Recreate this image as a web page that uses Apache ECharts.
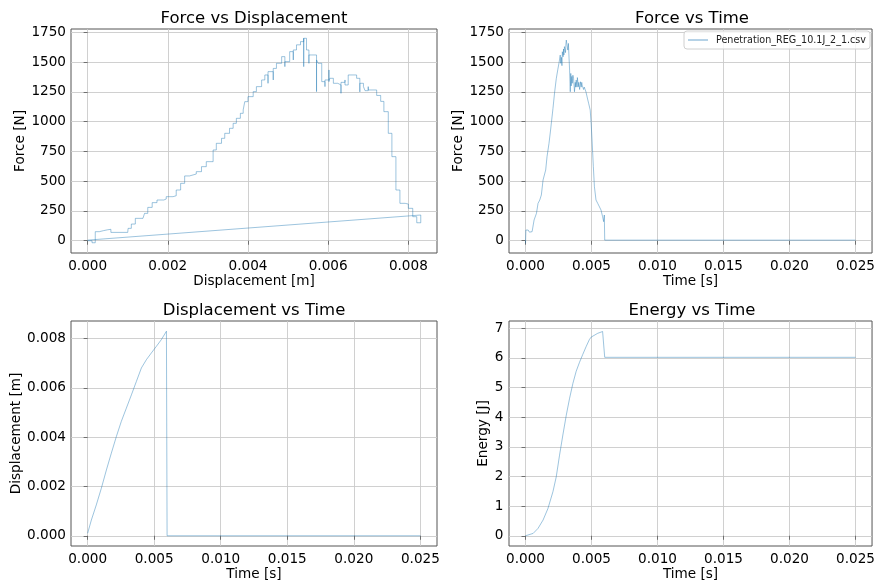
<!DOCTYPE html>
<html>
<head>
<meta charset="utf-8">
<script src="https://cdn.jsdelivr.net/npm/echarts@6/dist/echarts.min.js"></script>
<style>
html,body{margin:0;padding:0;background:#fff;}
#chart{width:878px;height:583px;}
</style>
</head>
<body>
<div id="chart"></div>
<script>
// ---------- data ----------
const legendName = 'Penetration_REG_10.1J_2_1.csv';

// Force vs Displacement (loading branch, stepped)
const fdDisp = [0,0.00011,0.00019,0.00019,0.00029,0.0004,0.0005,0.00058,0.001,0.00101,0.00109,0.00119,0.00138,0.00142,0.0015,0.00161,0.00173,0.0019,0.00196,0.00213,0.00221,0.00232,0.00242,0.00254,0.00271,0.00284,0.00296,0.00313,0.00321,0.00334,0.00342,0.00354,0.00363,0.00371,0.00381,0.00388,0.00392,0.004,0.00413,0.00421,0.00434,0.00442,0.0045,0.0045,0.0045,0.00463,0.00463,0.00463,0.00471,0.00484,0.00492,0.00492,0.00492,0.00504,0.00513,0.00513,0.00513,0.00521,0.00531,0.00539,0.00539,0.00539,0.00546,0.00552,0.00552,0.00552,0.00559,0.00571,0.00571,0.00571,0.00575,0.00584,0.00592,0.00592,0.00592,0.00602,0.00602,0.00604,0.00613,0.00624,0.00632,0.00632,0.00632,0.00642,0.00642,0.0065,0.00671,0.00679,0.00679,0.00679,0.00688,0.00692,0.00692,0.007,0.007,0.00709,0.00721,0.00721,0.00731,0.00731,0.00739,0.0075,0.00759,0.00769,0.00779,0.00792,0.008,0.00811,0.00821,0.00831];
const fdForce = [0,-17,-10,76,85,92,96,70,70,104,140,188,188,230,280,320,342,350,370,378,426,482,544,560,580,622,664,762,818,860,902,944,986,1028,1070,1098,1168,1210,1252,1294,1350,1392,1392,1322,1420,1420,1350,1447,1490,1546,1546,1462,1504,1588,1588,1518,1602,1645,1672,1700,1462,1700,1602,1602,1490,1560,1560,1518,1252,1518,1490,1336,1350,1294,1350,1434,1336,1364,1322,1308,1308,1238,1330,1350,1308,1392,1364,1364,1250,1322,1294,1294,1260,1294,1266,1266,1238,1220,1196,1170,1084,902,706,426,314,308,272,202,151,216];
// Force vs Displacement (return segment after the test)
const fdReturnDisp = [0.00831, 0];
const fdReturnForce = [216, 5];

// Force vs Time
const ftTime = [0,0.00003,0.0002,0.0003,0.0005,0.00058,0.00065,0.00083,0.00095,0.00108,0.0012,0.00133,0.00153,0.00163,0.00178,0.0019,0.00208,0.0022,0.00233,0.00245,0.00255,0.00263,0.00267,0.00272,0.00276,0.00279,0.00285,0.00288,0.00291,0.00295,0.00298,0.00303,0.00306,0.00309,0.00313,0.00318,0.00321,0.00325,0.0033,0.00334,0.00339,0.00343,0.00346,0.00348,0.00351,0.00354,0.00359,0.00364,0.00368,0.00371,0.00377,0.0038,0.00384,0.0039,0.00393,0.00396,0.004,0.00403,0.00406,0.0041,0.00416,0.00422,0.00426,0.00429,0.00436,0.0044,0.00445,0.00454,0.00458,0.00464,0.00472,0.00479,0.0049,0.00497,0.00504,0.00514,0.00522,0.00534,0.00547,0.00559,0.00572,0.00584,0.00592,0.00597,0.006,0.025];
const ftForce = [-22,90,90,72,76,80,174,230,314,342,384,510,594,706,818,930,1110,1240,1360,1440,1500,1559,1490,1540,1470,1587,1545,1610,1560,1630,1643,1580,1650,1685,1699,1620,1601,1657,1530,1433,1251,1405,1300,1340,1380,1322,1390,1363,1300,1251,1330,1290,1349,1290,1370,1363,1293,1330,1340,1270,1335,1290,1330,1307,1321,1270,1290,1279,1250,1237,1182,1150,1098,990,846,622,454,342,314,300,258,202,160,216,5,5];

// Displacement vs Time
const dtTime = [0,0.00028,0.00065,0.00103,0.00141,0.00178,0.00216,0.00253,0.00291,0.00329,0.00366,0.00404,0.00442,0.00479,0.00517,0.00554,0.00592,0.00597,0.025];
const dtDisp = [0.0001,0.00064,0.00125,0.00193,0.00267,0.00335,0.00403,0.00464,0.00518,0.00572,0.00626,0.00681,0.00715,0.00742,0.00769,0.00796,0.0083,0,0];

// Energy vs Time
const etTime = [0,0.00058,0.00095,0.00133,0.0017,0.00208,0.00233,0.00258,0.00283,0.00309,0.00334,0.00359,0.00384,0.00409,0.00434,0.00459,0.00484,0.00497,0.00509,0.00547,0.00584,0.00597,0.006,0.025];
const etEnergy = [0,0.08,0.25,0.53,0.92,1.49,1.99,2.72,3.4,4.07,4.64,5.14,5.55,5.85,6.12,6.38,6.62,6.7,6.74,6.83,6.89,6.9,6.02,6.02];

// tick labels
const forceTicks = [0,250,500,750,1000,1250,1500,1750];
const dispTicks = [0,0.002,0.004,0.006,0.008];
const timeTicks = [0,0.005,0.01,0.015,0.02,0.025];
const energyTicks = [0,1,2,3,4,5,6,7];

// ---------- chart ----------
const zip = (a, b) => a.map((v, i) => [v, b[i]]);
const FONT = 'DejaVu Sans';
const FS = 13.6;
const LINE = {color: '#1f77b4', width: 0.8, opacity: 0.55};
const frame = '#555';

function axis(gridIndex, min, max, ticks, fmt, name, nameGap, isY, labelMargin) {
  return {
    type: 'value', gridIndex, min, max,
    name, nameLocation: 'middle', nameGap, nameRotate: isY ? 90 : 0,
    nameTextStyle: {fontFamily: FONT, fontSize: FS, color: '#000'},
    axisLine: {show: false},
    axisTick: {show: true, inside: false, length: 4, lineStyle: {color: frame, width: 0.8}, customValues: ticks},
    axisLabel: {customValues: ticks, formatter: fmt, fontFamily: FONT, fontSize: FS, color: '#000', margin: labelMargin, showMinLabel: true, showMaxLabel: true},
    splitLine: {show: true, lineStyle: {color: '#cbcbcb', width: 0.9}},
  };
}
const f0 = v => String(Math.round(v));
const f3 = v => v.toFixed(3);

const grids = [
  {left: 71, top: 29, width: 366, height: 224},
  {left: 509, top: 29, width: 366, height: 224},
  {left: 71, top: 321, width: 366, height: 225},
  {left: 509, top: 321, width: 366, height: 225},
].map(g => Object.assign(g, {show: true, borderColor: frame, borderWidth: 1, backgroundColor: 'transparent', containLabel: false}));

const titleStyle = {fontFamily: FONT, fontSize: 16.5, fill: '#000', textAlign: 'center', textVerticalAlign: 'middle'};
const titles = [
  ['Force vs Displacement', 254, 19],
  ['Force vs Time', 692, 19],
  ['Displacement vs Time', 254, 311],
  ['Energy vs Time', 692, 311],
];

const option = {
  animation: false,
  backgroundColor: '#fff',
  grid: grids,
  graphic: titles.map(t => ({type: 'text', x: t[1], y: t[2], style: Object.assign({text: t[0]}, titleStyle)})),
  legend: {
    show: true, left: 684, top: 31,
    data: [{name: legendName, icon: 'rect'}],
    itemWidth: 20, itemHeight: 1.2,
    padding: [4, 4, 4, 4],
    borderColor: '#d0d0d0', borderWidth: 1, borderRadius: 3,
    backgroundColor: 'rgba(255,255,255,0.8)',
    selectedMode: false,
    itemStyle: {color: 'rgba(31,119,180,0.55)'},
    textStyle: {fontFamily: FONT, fontSize: 9.6, color: '#222', padding: [0, 0, 0, 3]},
  },
  xAxis: [
    axis(0, -0.000415, 0.008715, dispTicks, f3, 'Displacement [m]', 21, false, 6),
    axis(1, -0.00125, 0.02625, timeTicks, f3, 'Time [s]', 21, false, 6),
    axis(2, -0.00125, 0.02625, timeTicks, f3, 'Time [s]', 21, false, 6),
    axis(3, -0.00125, 0.02625, timeTicks, f3, 'Time [s]', 21, false, 6),
  ],
  yAxis: [
    axis(0, -103, 1778, forceTicks, f0, 'Force [N]', 43, true, 5),
    axis(1, -103, 1778, forceTicks, f0, 'Force [N]', 43, true, 5),
    axis(2, -0.000415, 0.008715, dispTicks, f3, 'Displacement [m]', 48, true, 5),
    axis(3, -0.345, 7.245, energyTicks, f0, 'Energy [J]', 17, true, 5.5),
  ],
  series: [
    {type: 'line', xAxisIndex: 0, yAxisIndex: 0, data: zip(fdDisp, fdForce), step: 'end', showSymbol: false, symbol: 'none', lineStyle: LINE},
    {type: 'line', xAxisIndex: 0, yAxisIndex: 0, data: zip(fdReturnDisp, fdReturnForce), showSymbol: false, symbol: 'none', lineStyle: LINE},
    {type: 'line', name: legendName, xAxisIndex: 1, yAxisIndex: 1, data: zip(ftTime, ftForce), showSymbol: false, symbol: 'none', lineStyle: LINE, itemStyle: {color: 'rgba(31,119,180,0.55)'}},
    {type: 'line', xAxisIndex: 2, yAxisIndex: 2, data: zip(dtTime, dtDisp), showSymbol: false, symbol: 'none', lineStyle: LINE},
    {type: 'line', xAxisIndex: 3, yAxisIndex: 3, data: zip(etTime, etEnergy), showSymbol: false, symbol: 'none', lineStyle: LINE},
  ],
};

const chart = echarts.init(document.getElementById('chart'), null, {renderer: 'canvas', width: 878, height: 583});
chart.setOption(option);
</script>
</body>
</html>
